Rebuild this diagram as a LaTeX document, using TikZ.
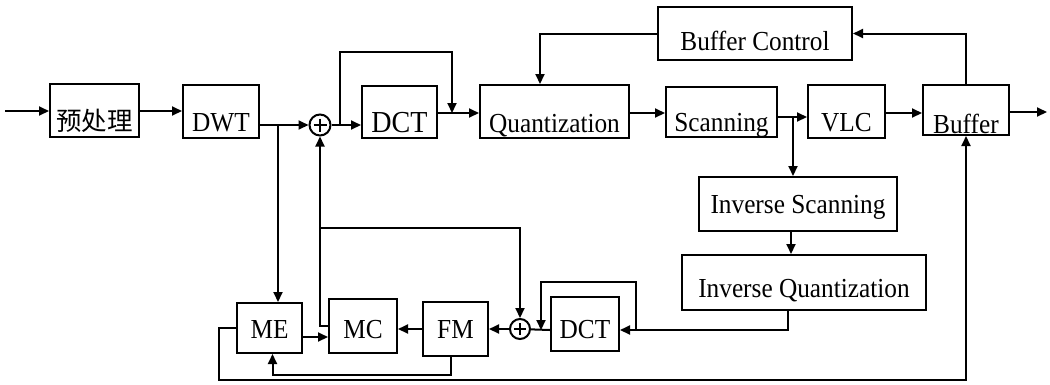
\documentclass[tikz,border=0pt]{standalone}
\usepackage{fontspec}
\setmainfont{Liberation Serif}[FakeStretch=0.92]
\newfontfamily\cjk{Noto Sans CJK SC}
\usetikzlibrary{arrows.meta}

\tikzset{
  blk/.style={draw, line width=2pt, inner sep=0pt, minimum height=53pt,
    text height=22pt, text depth=0pt, font=\fontsize{27.5}{30}\selectfont},
  low/.style={text height=#1},
  sum/.style={draw, circle, line width=2pt, inner sep=0pt, minimum size=21pt,
    path picture={
      \draw[line width=2.2pt]
        ([yshift=-4pt]path picture bounding box.north) -- ([yshift=4pt]path picture bounding box.south)
        ([xshift=4pt]path picture bounding box.west) -- ([xshift=-4pt]path picture bounding box.east);
    }},
  flow/.style={line width=2pt, -{Triangle[length=10pt,width=9pt]}},
  wire/.style={line width=2pt},
}

\begin{document}
\begin{tikzpicture}[x=1pt,y=-1pt]
      \useasboundingbox (0,0) rectangle (1050,384);
      % encoder row
      \node [blk, low=40pt, minimum width=89pt] (pre) at (94.5,110.5) {\cjk\fontsize{25.5}{28}\selectfont 预处理};
      \node [blk, low=40pt, minimum width=76pt] (dwt) at (221,111.5) {DWT};
      \node [sum] (sumA) at (320,125) {};
      \node [blk, low=40pt, minimum width=75pt, minimum height=52pt,
        font=\fontsize{30.5}{32}\selectfont] (dctA) at (399.5,112) {DCT};
      \node [blk, low=41pt, minimum width=149pt] (quant) at (554.5,111.5) {Quantization};
      \node [blk, low=38pt, minimum width=111pt, minimum height=50pt] (scan) at (721.5,112) {Scanning};
      \node [blk, low=39pt, minimum width=77pt] (vlc) at (846.5,111.5) {VLC};
      \node [blk, low=46pt, minimum width=86pt, minimum height=50pt] (buf) at (966,110) {Buffer};
      % rate control
      \node [blk, low=33pt, minimum width=194pt] (bufc) at (755,33.5) {Buffer Control};
      % inverse path
      \node [blk, low=18pt, minimum width=198pt, minimum height=54pt] (iscan) at (798,204) {Inverse Scanning};
      \node [blk, low=29pt, minimum width=244pt, minimum height=55pt] (iquant) at (804,282.5) {Inverse Quantization};
      % prediction row
      \node [blk, low=20pt, minimum width=65pt, minimum height=50pt] (me) at (269.5,328) {ME};
      \node [blk, low=24pt, minimum width=68pt, minimum height=54pt] (mc) at (363,326) {MC};
      \node [blk, low=18pt, minimum width=65pt, minimum height=54pt] (fm) at (455.5,329) {FM};
      \node [sum, minimum size=20pt] (sumB) at (520,329) {};
      \node [blk, low=28pt, minimum width=68pt, minimum height=54pt] (dctB) at (585,324) {DCT};

      % free ends and taps
      \coordinate (in) at (5,111);
      \coordinate (out) at (1047,112);
      \coordinate (tapA) at (278,125);
      \coordinate (skipA) at (340,125);
      \coordinate (joinA) at (452,113);
      \coordinate (tapS) at (793,117);
      \coordinate (skipB) at (636,330);
      \coordinate (joinB) at (541,330);
      \coordinate (tapC) at (320,228);

      % links
      \draw [flow] (in) -- (pre.west |- in);
      \draw [flow] (pre.east |- in) -- (dwt.west |- in);
      \draw [flow] (dwt.east |- sumA) -- (sumA);
      \draw [flow] (tapA) -- (tapA |- me.north);
      \draw [flow] (sumA) -- (dctA.west |- sumA);
      \draw [flow] (skipA) -- ++(0,-73) -| (joinA);
      \draw [flow] (dctA.east |- joinA) -- (quant.west |- joinA);
      \draw [flow] (quant.east |- joinA) -- (scan.west |- joinA);
      \draw [flow] (scan.east |- tapS) -- (vlc.west |- tapS);
      \draw [flow] (tapS) -- (tapS |- iscan.north);
      \draw [flow] (vlc.east |- joinA) -- (buf.west |- joinA);
      \draw [flow] (buf.east |- out) -- (out);
      \draw [flow] (buf.north) |- (bufc.east);
      \draw [flow] (bufc.west) -| ([xshift=-14.5pt]quant.north);
      \draw [flow] ([xshift=-7pt]iscan.south) -- ([xshift=-7pt]iscan.south |- iquant.north);
      \draw [flow] ([xshift=-16pt]iquant.south) |- (dctB.east |- skipB);
      \draw [flow] (skipB) -- ++(0,-48) -| (joinB);
      \draw [wire] (dctB.west |- joinB) -- (sumB);
      \draw [flow] (sumB) -- (fm.east |- sumB);
      \draw [flow] (fm.west |- sumB) -- (mc.east |- sumB);
      \draw [flow] ([yshift=-9pt]me.east) -- ([yshift=-9pt]me.east -| mc.west);
      \draw [flow] (mc.west) -| (sumA.south);
      \draw [flow] (tapC) -| (sumB.north);
      \draw [flow] (me.west) -- ++(-17,0) -- ++(0,52) -| (buf.south);
      \draw [flow] ([xshift=-5pt]fm.south) -- ++(0,18) -| ([xshift=3pt]me.south);
    \end{tikzpicture}
\end{document}
